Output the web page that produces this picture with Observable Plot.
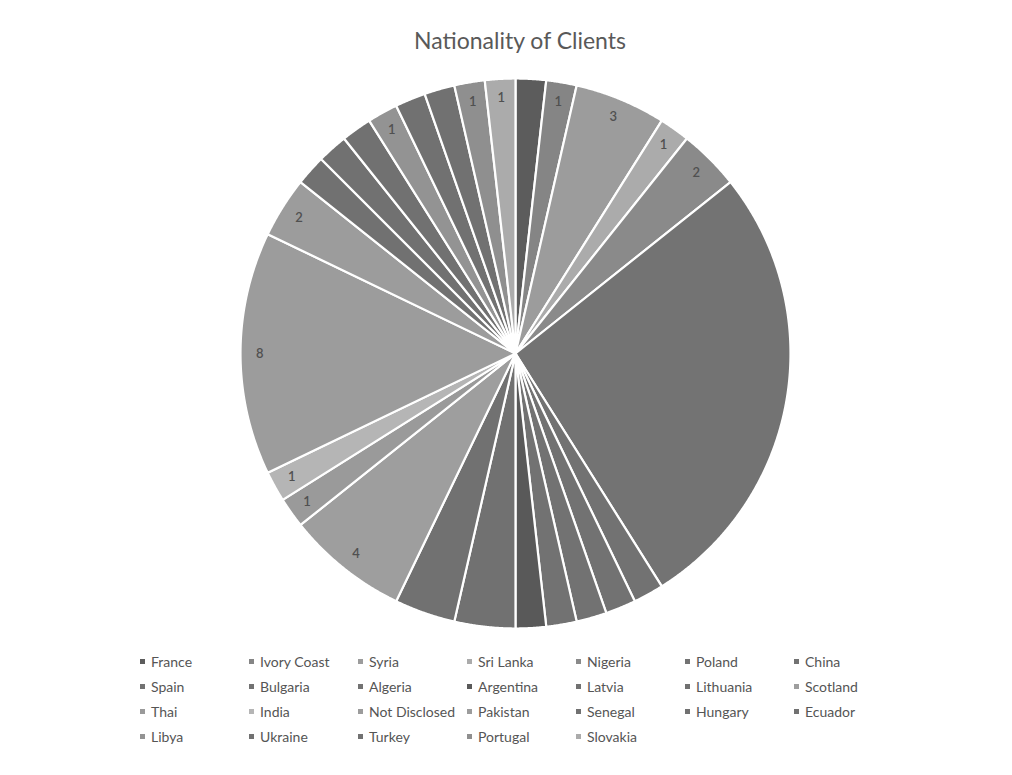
<!DOCTYPE html>
<html>
<head>
<meta charset="utf-8">
<script src="https://cdn.jsdelivr.net/npm/d3@7"></script>
<script src="https://cdn.jsdelivr.net/npm/@observablehq/plot@0.6"></script>
<style>
  body { margin: 0; background: #fff; font-family: Lato, "Open Sans", sans-serif; }
  #wrap { position: relative; width: 1012px; height: 775px; overflow: hidden; }
  #title { position: absolute; top: 26px; left: 14px; width: 1012px; text-align: center; font-size: 23px; color: #595959; }
  #chart { position: absolute; top: 68px; left: 0; }
  #legend { position: absolute; top: 649px; left: 140px; display: grid;
            grid-template-columns: repeat(7, 109px); grid-auto-rows: 25px;
            font-size: 14px; color: #555; }
  .item { display: flex; align-items: center; white-space: nowrap; }
  .sw { width: 5px; height: 5px; margin-right: 6px; flex: none; }
</style>
</head>
<body>
<div id="wrap">
  <div id="title">Nationality of Clients</div>
  <div id="chart"></div>
  <div id="legend"></div>
</div>
<script>
// Nationalities, in pie order (clockwise from 12 o'clock)
const countries = [
  "France", "Ivory Coast", "Syria", "Sri Lanka", "Nigeria", "Poland", "China",
  "Spain", "Bulgaria", "Algeria", "Argentina", "Latvia", "Lithuania", "Scotland",
  "Thai", "India", "Not Disclosed", "Pakistan", "Senegal", "Hungary", "Ecuador",
  "Libya", "Ukraine", "Turkey", "Portugal", "Slovakia"
];
// Number of clients per nationality
const clients = [
  1, 1, 3, 1, 2, 15, 1,
  1, 1, 1, 1, 2, 2, 4,
  1, 1, 8, 2, 1, 1, 1,
  1, 1, 1, 1, 1
];
// Grey fill for each nationality
const greys = [
  "#5c5c5c", "#858585", "#9c9c9c", "#ababab", "#8a8a8a", "#737373", "#727272",
  "#727272", "#727272", "#727272", "#595959", "#717171", "#717171", "#9e9e9e",
  "#9a9a9a", "#b5b5b5", "#9c9c9c", "#9c9c9c", "#717171", "#717171", "#717171",
  "#939393", "#717171", "#717171", "#8f8f8f", "#ababab"
];

const arcs = d3.pie().sort(null).value(d => d)(clients);

// Each slice as a closed polygon: centre -> arc -> centre (unit circle)
const slicePts = [];
arcs.forEach((a, i) => {
  const name = countries[i];
  slicePts.push({name, x: 0, y: 0});
  const n = Math.max(2, Math.ceil((a.endAngle - a.startAngle) / 0.004));
  for (let k = 0; k <= n; k++) {
    const t = a.startAngle + (a.endAngle - a.startAngle) * k / n;
    slicePts.push({name, x: Math.sin(t), y: Math.cos(t)});
  }
  slicePts.push({name, x: 0, y: 0});
});

// Value labels placed near the outer edge; only readable on the lighter slices
const labels = arcs.map((a, i) => {
  const m = (a.startAngle + a.endAngle) / 2;
  return {name: countries[i], value: clients[i], x: 0.93 * Math.sin(m), y: 0.93 * Math.cos(m)};
}).filter((d, i) => d3.hsl(greys[i]).l > 0.5);

const chart = Plot.plot({
  width: 1012,
  height: 575,
  marginLeft: 240,
  marginRight: 222,
  marginTop: 10,
  marginBottom: 15,
  x: {domain: [-1, 1], axis: null},
  y: {domain: [-1, 1], axis: null},
  color: {domain: countries, range: greys},
  marks: [
    Plot.line(slicePts, {x: "x", y: "y", z: "name", fill: "name", stroke: "white", strokeWidth: 2.2, curve: "linear"}),
    Plot.text(labels, {x: "x", y: "y", text: "value", fill: "#505050", fontSize: 13, fontWeight: 600, fontFamily: "Lato, sans-serif"})
  ]
});
document.getElementById("chart").appendChild(chart);

// Legend
const legend = document.getElementById("legend");
countries.forEach((c, i) => {
  const item = document.createElement("div");
  item.className = "item";
  const sw = document.createElement("span");
  sw.className = "sw";
  sw.style.background = greys[i];
  item.appendChild(sw);
  item.appendChild(document.createTextNode(c));
  legend.appendChild(item);
});
</script>
</body>
</html>
